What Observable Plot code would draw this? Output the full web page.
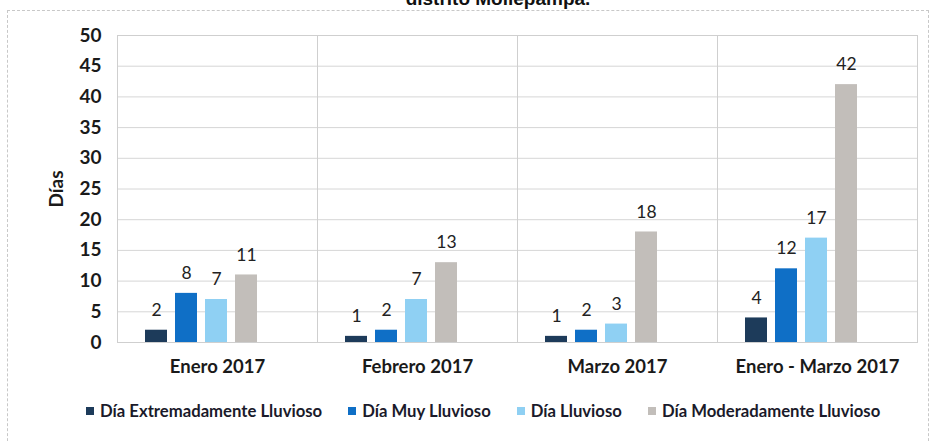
<!DOCTYPE html>
<html>
<head>
<meta charset="utf-8">
<script src="https://cdn.jsdelivr.net/npm/d3@7"></script>
<script src="https://cdn.jsdelivr.net/npm/@observablehq/plot@0.6"></script>
<style>
  html, body { margin: 0; padding: 0; background: #fff; }
  body { width: 931px; height: 441px; position: relative; overflow: hidden; font-family: Lato, "Open Sans", sans-serif; }
  #title { position: absolute; top: -12px; left: 0; width: 996px; text-align: center; font: bold 19px "Liberation Sans", Arial, sans-serif; color: #111; }
  #border { position: absolute; left: 7px; top: 10px; width: 920px; height: 460px; border-left: 1px dashed #c8c8c8; border-top: 1px dashed #c8c8c8; border-right: 1px dashed #c8c8c8; }
  #chart { position: absolute; left: 0; top: 0; }
  #legend { position: absolute; top: 401px; left: 86px; display: flex; font: bold 16.7px Lato, sans-serif; color: #1a1a2a; white-space: nowrap; }
  #legend .item { display: flex; align-items: center; margin-right: 26px; }
  #legend .sw { width: 8px; height: 8px; margin-right: 6px; display: inline-block; }
</style>
</head>
<body>
<div id="border"></div>
<div id="title">distrito Mollepampa.</div>
<div id="chart"></div>
<div id="legend"></div>
<script>
const categories = ["Enero 2017", "Febrero 2017", "Marzo 2017", "Enero - Marzo 2017"];
const series = ["Día Extremadamente Lluvioso", "Día Muy Lluvioso", "Día Lluvioso", "Día Moderadamente Lluvioso"];
const extremadamente = [2, 1, 1, 4];
const muyLluvioso = [8, 2, 2, 12];
const lluvioso = [7, 7, 3, 17];
const moderadamente = [11, 13, 18, 42];
const yTicks = [0, 5, 10, 15, 20, 25, 30, 35, 40, 45, 50];
const colors = ["#1d3b5a", "#0f6fc6", "#8fd0f3", "#c2beba"];

const seriesValues = [extremadamente, muyLluvioso, lluvioso, moderadamente];
const data = [];
categories.forEach((c, i) => {
  series.forEach((s, j) => data.push({category: c, serie: s, value: seriesValues[j][i]}));
});

const chart = Plot.plot({
  width: 931,
  height: 392,
  marginLeft: 115,
  marginRight: 13,
  marginTop: 35,
  marginBottom: 50,
  style: {fontFamily: "Lato, sans-serif", fontSize: "17px", color: "#1a1a1a", background: "transparent"},
  fx: {domain: categories, padding: 0, axis: "bottom", label: null, tickSize: 0, tickPadding: 17},
  x: {domain: series, axis: null, paddingInner: 0.27, paddingOuter: 1.37, align: 0.32},
  y: {domain: [0, 50], ticks: yTicks, tickSize: 0, tickPadding: 16, label: "Días", labelAnchor: "center", labelOffset: 68, labelArrow: "none"},
  color: {domain: series, range: colors},
  marks: [
    Plot.ruleY(yTicks, {stroke: "#d6d6d6", strokeWidth: 1}),
    Plot.frame({stroke: "#cfcfcf"}),
    Plot.barY(data, {fx: "category", x: "serie", y: "value", fill: "serie"}),
    Plot.text(data, {fx: "category", x: "serie", y: "value", text: d => String(d.value), dy: -20, fontSize: 17.5, fontWeight: "normal", fill: "#222"})
  ]
});
chart.querySelectorAll("g[aria-label^='fx-axis'] text").forEach(t => { t.style.fontWeight = "bold"; t.style.fontSize = "18.5px"; });
chart.querySelectorAll("g[aria-label^='y-axis'] text").forEach(t => { t.style.fontWeight = "bold"; t.style.fontSize = "19px"; });
document.getElementById("chart").appendChild(chart);

const legend = document.getElementById("legend");
series.forEach((s, j) => {
  const item = document.createElement("div");
  item.className = "item";
  const sw = document.createElement("span");
  sw.className = "sw";
  sw.style.background = colors[j];
  item.appendChild(sw);
  item.appendChild(document.createTextNode(s));
  legend.appendChild(item);
});
</script>
</body>
</html>
